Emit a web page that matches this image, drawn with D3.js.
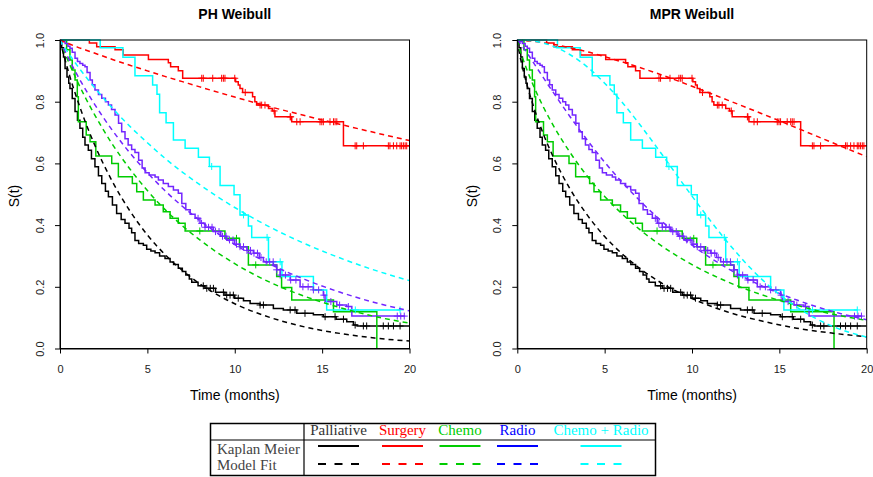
<!DOCTYPE html>
<html><head><meta charset="utf-8">
<script src="https://cdn.jsdelivr.net/npm/d3@7"></script>
<style>body{margin:0;background:#fff}svg{display:block}</style>
</head><body><svg id="c" width="873" height="477"></svg>
<script>
// ---------- DATA ----------
const groups = ["Palliative","Surgery","Chemo","Radio","Chemo + Radio"];
const panelTitles = ["PH Weibull","MPR Weibull"];
const xTicks = [0,5,10,15,20];
const yTicks = [0,0.2,0.4,0.6,0.8,1.0];
const rowLabels = ["Kaplan Meier","Model Fit"];

// Kaplan-Meier steps: [time, survival after step]
const kmPalliative = [[0,1],[0.1,0.975],[0.2,0.945],[0.29,0.908],[0.4,0.88],[0.5,0.86],[0.57,0.843],[0.7,0.81],[0.86,0.768],[1.0,0.74],[1.14,0.714],[1.3,0.685],[1.43,0.66],[1.62,0.643],[1.8,0.615],[2.0,0.589],[2.2,0.56],[2.39,0.535],[2.6,0.51],[2.77,0.492],[3.0,0.465],[3.24,0.438],[3.5,0.418],[3.72,0.406],[3.95,0.39],[4.1,0.375],[4.29,0.35],[4.5,0.34],[4.77,0.335],[4.96,0.322],[5.2,0.316],[5.44,0.31],[5.7,0.3],[6.01,0.292],[6.3,0.28],[6.5,0.272],[6.77,0.26],[7.0,0.25],[7.2,0.238],[7.4,0.225],[7.54,0.215],[7.9,0.203],[8.3,0.195],[8.9,0.182],[9.44,0.173],[10.0,0.163],[10.5,0.155],[10.88,0.146],[11.45,0.141],[12.21,0.13],[12.78,0.125],[13.55,0.114],[14.5,0.109],[15.07,0.103],[15.8,0.095],[16.41,0.087],[16.79,0.076],[17.0,0.073],[20,0.073]];
const kmSurgery = [[0,1],[1.68,0.99],[2.1,0.978],[3.15,0.968],[3.62,0.951],[5.06,0.937],[6.2,0.926],[6.33,0.913],[6.77,0.9],[7.02,0.876],[10.05,0.865],[10.2,0.854],[10.3,0.843],[10.45,0.83],[11.02,0.816],[11.15,0.8],[11.25,0.789],[11.93,0.778],[12.15,0.77],[12.3,0.751],[13.26,0.735],[16.22,0.657],[20,0.657]];
const kmChemo = [[0,1],[0.38,0.968],[0.57,0.935],[0.7,0.903],[0.86,0.87],[0.99,0.816],[1.05,0.735],[1.5,0.692],[1.72,0.67],[2.05,0.624],[2.96,0.6],[3.34,0.557],[4.14,0.535],[4.39,0.508],[4.77,0.481],[5.44,0.465],[5.91,0.443],[6.3,0.422],[6.77,0.406],[7.16,0.381],[9.44,0.357],[10.27,0.33],[10.78,0.271],[12.4,0.233],[12.68,0.198],[13.26,0.157],[15.65,0.119],[18.13,0]];
const kmRadio = [[0,1],[0.15,0.995],[0.29,0.989],[0.45,0.98],[0.57,0.973],[0.7,0.96],[0.86,0.941],[1.0,0.93],[1.14,0.924],[1.3,0.918],[1.43,0.913],[1.55,0.895],[1.72,0.87],[1.85,0.855],[2.0,0.838],[2.2,0.823],[2.39,0.811],[2.6,0.8],[2.77,0.789],[2.95,0.775],[3.15,0.757],[3.35,0.73],[3.53,0.703],[3.72,0.68],[3.9,0.66],[4.1,0.645],[4.29,0.635],[4.5,0.61],[4.7,0.585],[4.87,0.57],[5.1,0.562],[5.44,0.556],[5.63,0.546],[5.91,0.535],[6.2,0.525],[6.49,0.514],[6.77,0.503],[6.97,0.47],[7.2,0.45],[7.45,0.435],[7.73,0.422],[8.01,0.406],[8.3,0.393],[8.78,0.379],[9.2,0.364],[9.54,0.352],[10.0,0.338],[10.3,0.33],[10.7,0.318],[11.07,0.309],[11.4,0.295],[11.64,0.281],[12.21,0.271],[12.4,0.255],[12.6,0.238],[13.17,0.222],[13.74,0.2],[14.5,0.19],[15.07,0.173],[15.17,0.152],[15.84,0.141],[16.41,0.136],[16.7,0.105],[19.75,0.105]];
const kmChemoRadio = [[0,1],[2.3,0.975],[3.6,0.944],[4.29,0.884],[5.3,0.854],[5.55,0.824],[5.7,0.764],[6.07,0.732],[6.49,0.676],[7.16,0.649],[7.92,0.62],[8.55,0.59],[9.16,0.528],[9.96,0.498],[10.3,0.433],[10.78,0.397],[10.97,0.36],[11.93,0.281],[12.7,0.233],[14.5,0.19],[15.26,0.125],[19.46,0.125]];

// censoring times (marks drawn on the KM curve)
const cenPalliative = [8.2,8.4,8.6,8.78,9.35,9.54,9.73,9.92,10.2,11.45,11.64,13.17,13.45,14.02,15.17,15.74,16.22,16.89,17.36,17.55,18.5,18.79,19.08,19.46];
const cenSurgery = [8.11,8.2,8.74,9.25,9.35,9.44,10.0,10.6,11.45,11.54,11.73,12.25,13.17,13.2,13.55,13.74,14.88,14.98,15.07,15.45,15.65,15.74,15.84,16.89,16.98,17.36,18.79,18.88,19.08,19.27,19.46,19.55,19.65,19.75,19.84];
const cenChemo = [8.0,10.1,11.2];
const cenRadio = [7.9,8.1,8.3,8.5,8.7,8.9,9.1,9.3,9.5,9.7,9.9,10.1,10.3,10.5,10.7,10.9,11.1,11.3,11.5,11.8,12.0,12.2,12.4,12.6,12.9,13.2,13.5,13.9,14.2,14.5,14.8,15.1,15.5,16.0,16.5,19.3,19.5,19.7];
const cenChemoRadio = [8.68,10.5,11.85,12.6,16.9,19.46];

// fitted model curves, read at these times
const modelTimes = [0,0.1,0.25,0.5,1,1.5,2,3,4,5,6,7,8,10,12,14,16,18,20];
const phPalliative = [1,0.976,0.944,0.894,0.805,0.727,0.658,0.541,0.446,0.368,0.305,0.253,0.210,0.145,0.101,0.070,0.049,0.034,0.024];
const phSurgery = [1,0.997,0.994,0.988,0.977,0.967,0.957,0.937,0.918,0.900,0.882,0.865,0.848,0.815,0.784,0.755,0.727,0.700,0.674];
const phChemo = [1,0.984,0.962,0.928,0.865,0.808,0.756,0.662,0.582,0.512,0.451,0.398,0.352,0.275,0.215,0.169,0.133,0.104,0.082];
const phRadio = [1,0.986,0.968,0.939,0.885,0.836,0.790,0.707,0.634,0.570,0.512,0.461,0.415,0.337,0.274,0.224,0.183,0.149,0.122];
const phChemoRadio = [1,0.990,0.977,0.956,0.916,0.879,0.844,0.779,0.720,0.667,0.617,0.572,0.531,0.457,0.394,0.340,0.294,0.254,0.220];
const mprPalliative = [1,0.964,0.923,0.866,0.772,0.694,0.628,0.519,0.433,0.363,0.307,0.260,0.221,0.162,0.119,0.089,0.066,0.050,0.038];
const mprSurgery = [1,1,1,0.998,0.995,0.991,0.987,0.975,0.962,0.946,0.929,0.911,0.892,0.850,0.806,0.761,0.715,0.668,0.622];
const mprChemo = [1,0.978,0.951,0.911,0.842,0.782,0.729,0.637,0.559,0.493,0.436,0.386,0.343,0.272,0.217,0.174,0.140,0.112,0.091];
const mprRadio = [1,0.994,0.983,0.963,0.920,0.877,0.835,0.753,0.676,0.604,0.539,0.480,0.426,0.335,0.261,0.203,0.157,0.121,0.093];
const mprChemoRadio = [1,1,1,0.999,0.996,0.990,0.981,0.953,0.913,0.860,0.798,0.727,0.651,0.494,0.347,0.224,0.134,0.073,0.037];

// ---------- STYLE ----------
const kmColors = ["#000000","#ff0000","#00cc00","#7326ff","#00ffff"];
const legendColors = ["#000000","#ff0000","#00cc00","#0000ff","#00ffff"];

const kms = [kmPalliative,kmSurgery,kmChemo,kmRadio,kmChemoRadio];
const cens = [cenPalliative,cenSurgery,cenChemo,cenRadio,cenChemoRadio];
const models = [[phPalliative,phSurgery,phChemo,phRadio,phChemoRadio],
                [mprPalliative,mprSurgery,mprChemo,mprRadio,mprChemoRadio]];

const svg = d3.select("#c");
const y = d3.scaleLinear().domain([0,1]).range([348.5,40]);
const panels = [
  {x: d3.scaleLinear().domain([0,20]).range([60,409.5]), ylabX: 18.5},
  {x: d3.scaleLinear().domain([0,20]).range([517.3,866.7]), ylabX: 476.5}
];
const sans = "'Liberation Sans', Arial, Helvetica, sans-serif";

function survAt(km, t){
  let s = km[0][1];
  for (const p of km){ if (p[0] <= t) s = p[1]; else break; }
  return s;
}

panels.forEach((P, pi) => {
  const x = P.x;
  const [x0,x1] = x.range();
  const g = svg.append("g");
  const clipId = "clip"+pi;
  svg.append("clipPath").attr("id",clipId).append("rect")
    .attr("x",x0).attr("y",y(1)-1).attr("width",x1-x0).attr("height",y(0)-y(1)+2);
  const plot = g.append("g").attr("clip-path",`url(#${clipId})`);

  // KM step curves
  const stepLine = d3.line().x(d=>x(d[0])).y(d=>y(d[1])).curve(d3.curveStepAfter);
  kms.forEach((km,i)=>{
    plot.append("path").attr("d",stepLine(km)).attr("fill","none")
      .attr("stroke",kmColors[i]).attr("stroke-width",1.5);
  });
  // censor marks
  kms.forEach((km,i)=>{
    cens[i].forEach(t=>{
      const cx = x(t), cy = y(survAt(km,t));
      plot.append("path").attr("d",`M${cx-3.5},${cy}H${cx+3.5}M${cx},${cy-3.5}V${cy+3.5}`)
        .attr("stroke",kmColors[i]).attr("stroke-width",1).attr("fill","none");
    });
  });
  // model curves
  const mLine = d3.line().x(d=>x(d[0])).y(d=>y(d[1])).curve(d3.curveMonotoneX);
  models[pi].forEach((m,i)=>{
    const pts = modelTimes.map((t,k)=>[t,m[k]]);
    plot.append("path").attr("d",mLine(pts)).attr("fill","none")
      .attr("stroke",kmColors[i]).attr("stroke-width",1.5).attr("stroke-dasharray","5,4");
  });

  // box
  g.append("rect").attr("x",x0).attr("y",y(1)).attr("width",x1-x0).attr("height",y(0)-y(1))
    .attr("fill","none").attr("stroke","#000").attr("stroke-width",1);

  // x axis
  const xa = g.append("g").attr("transform",`translate(0,${y(0)})`)
    .call(d3.axisBottom(x).tickValues(xTicks).tickSize(5).tickSizeOuter(0).tickFormat(d3.format("d")));
  xa.select(".domain").attr("stroke","#000");
  xa.selectAll("text").attr("y",24.5).attr("dy",null)
    .attr("font-family",sans).attr("font-size",11).attr("fill","#222");
  // y axis
  const ya = g.append("g").attr("transform",`translate(${x0},0)`)
    .call(d3.axisLeft(y).tickValues(yTicks).tickSize(5).tickSizeOuter(0).tickFormat(d3.format(".1f")));
  ya.selectAll("text").attr("x",null).attr("dy",null).attr("text-anchor","middle")
    .attr("transform","translate(-16.3,0) rotate(-90)")
    .attr("font-family",sans).attr("font-size",11).attr("fill","#222");

  const cx = (x0+x1)/2;
  g.append("text").attr("x",cx).attr("y",18.5).attr("text-anchor","middle")
    .attr("font-family",sans).attr("font-size",14).attr("font-weight","bold").text(panelTitles[pi]);
  g.append("text").attr("x",cx).attr("y",400).attr("text-anchor","middle")
    .attr("font-family",sans).attr("font-size",14).text("Time (months)");
  g.append("text").attr("transform",`translate(${P.ylabX},196) rotate(-90)`).attr("text-anchor","middle")
    .attr("font-family",sans).attr("font-size",14).text("S(t)");
});

// ---------- LEGEND TABLE ----------
const serif = "'Liberation Serif','Times New Roman',serif";
const lg = svg.append("g");
lg.append("rect").attr("x",210.5).attr("y",423.5).attr("width",445).attr("height",52)
  .attr("fill","none").attr("stroke","#000").attr("stroke-width",1.5);
lg.append("line").attr("x1",304).attr("x2",304).attr("y1",423.5).attr("y2",475.5)
  .attr("stroke","#000").attr("stroke-width",1.2);
lg.append("line").attr("x1",210.5).attr("x2",655.5).attr("y1",440).attr("y2",440)
  .attr("stroke","#000").attr("stroke-width",1.2);
const colCenters = [338.5,402.5,460,517.5,601];
groups.forEach((name,i)=>{
  lg.append("text").attr("x",colCenters[i]).attr("y",435).attr("text-anchor","middle")
    .attr("font-family",serif).attr("font-size",15).attr("fill",i===0?"#333":legendColors[i]).text(name);
  lg.append("line").attr("x1",colCenters[i]-20.5).attr("x2",colCenters[i]+20.5)
    .attr("y1",446).attr("y2",446).attr("stroke",legendColors[i]).attr("stroke-width",2);
  lg.append("line").attr("x1",colCenters[i]-20.5).attr("x2",colCenters[i]+20.5)
    .attr("y1",464).attr("y2",464).attr("stroke",legendColors[i]).attr("stroke-width",2)
    .attr("stroke-dasharray","8,8.5");
});
rowLabels.forEach((r,i)=>{
  lg.append("text").attr("x",217).attr("y",i===0?453.5:469.5)
    .attr("font-family",serif).attr("font-size",15).attr("fill","#444").text(r);
});
</script></body></html>
